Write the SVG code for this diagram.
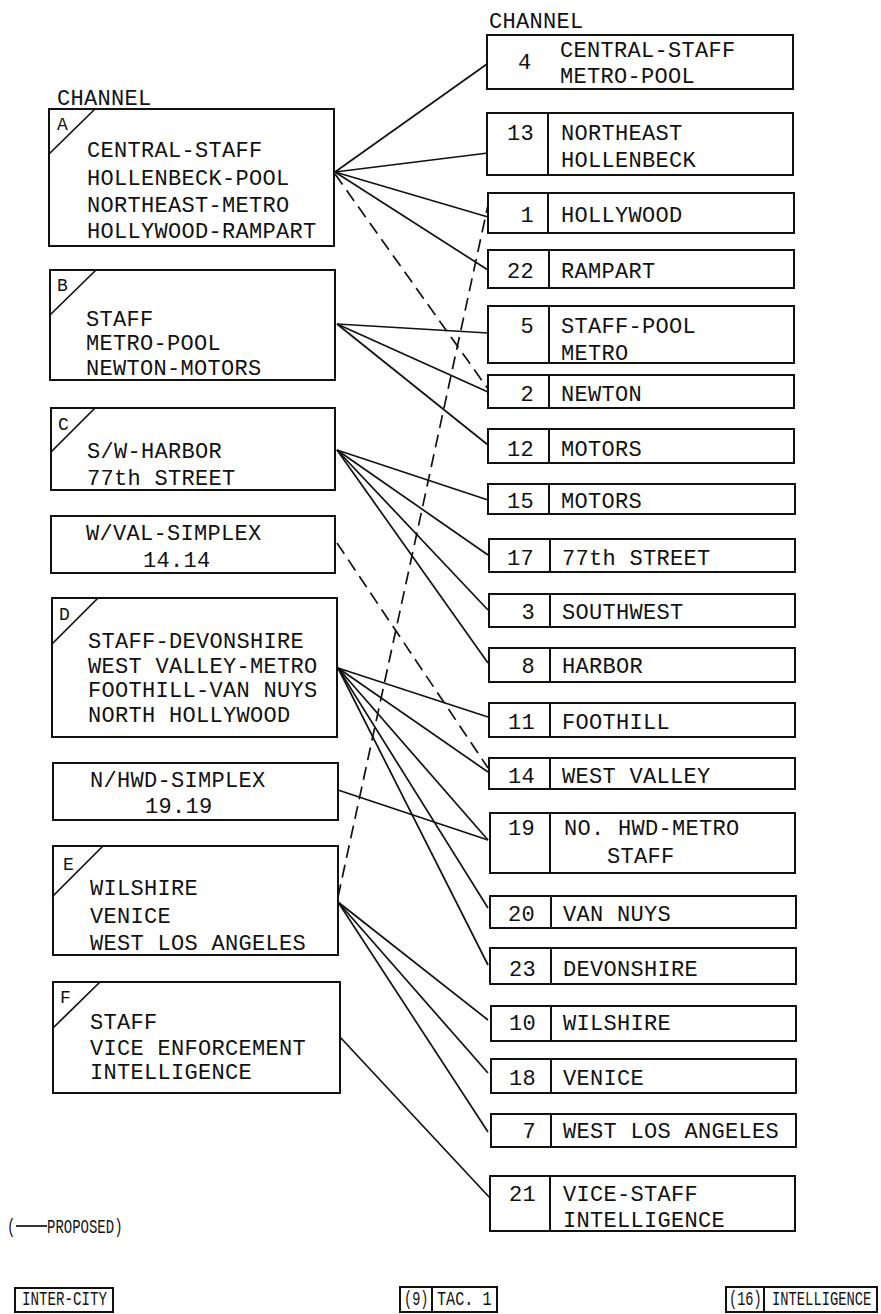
<svg xmlns="http://www.w3.org/2000/svg" width="881" height="1314" viewBox="0 0 881 1314">
<style>
.bg{fill:#fff}
.box{fill:none;stroke:#111;stroke-width:2}
.t{font-family:"Liberation Mono","DejaVu Sans Mono",monospace;font-size:22px;letter-spacing:0.3px;fill:#111}
.l{font-family:"Liberation Mono","DejaVu Sans Mono",monospace;font-size:18px;fill:#111}
.s{font-family:"Liberation Mono","DejaVu Sans Mono",monospace;font-size:20px;fill:#111}
.n{text-anchor:end}
.c{stroke:#111;stroke-width:1.7;fill:none}
.d{stroke-dasharray:13 7}
</style>
<rect class="bg" x="0" y="0" width="881" height="1314"/>

<g id="connectors">
  <line class="c" x1="335" y1="172" x2="487" y2="64"/>
  <line class="c" x1="335" y1="172" x2="488" y2="153"/>
  <line class="c" x1="335" y1="172" x2="488" y2="217"/>
  <line class="c" x1="335" y1="172" x2="488" y2="270"/>
  <line class="c d" x1="335" y1="174" x2="488" y2="389"/>
  <line class="c" x1="337" y1="324" x2="488" y2="333"/>
  <line class="c" x1="337" y1="324" x2="488" y2="392"/>
  <line class="c" x1="337" y1="324" x2="488" y2="445"/>
  <line class="c" x1="337" y1="450" x2="488" y2="500"/>
  <line class="c" x1="337" y1="450" x2="488" y2="555"/>
  <line class="c" x1="337" y1="450" x2="488" y2="610"/>
  <line class="c" x1="337" y1="450" x2="488" y2="663"/>
  <line class="c d" x1="337" y1="543" x2="488" y2="768"/>
  <line class="c" x1="338" y1="668" x2="488" y2="717"/>
  <line class="c" x1="338" y1="668" x2="488" y2="772"/>
  <line class="c" x1="338" y1="668" x2="488" y2="840"/>
  <line class="c" x1="338" y1="668" x2="488" y2="908"/>
  <line class="c" x1="338" y1="668" x2="488" y2="965"/>
  <line class="c" x1="338" y1="790" x2="488" y2="840"/>
  <line class="c d" x1="338" y1="897" x2="488" y2="205"/>
  <line class="c" x1="338" y1="902" x2="488" y2="1020"/>
  <line class="c" x1="338" y1="902" x2="488" y2="1073"/>
  <line class="c" x1="338" y1="902" x2="488" y2="1132"/>
  <line class="c" x1="340" y1="1037" x2="490" y2="1198"/>
</g>

<text class="t" x="57" y="105">CHANNEL</text>
<text class="t" x="489" y="28">CHANNEL</text>

<g id="node-A">
  <rect class="box" x="49" y="109" width="285" height="137"/>
  <line class="c" x1="49" y1="154" x2="95" y2="109"/>
  <text class="l" x="57" y="130">A</text>
  <text class="t" x="87" y="157">CENTRAL-STAFF</text>
  <text class="t" x="87" y="185">HOLLENBECK-POOL</text>
  <text class="t" x="87" y="212">NORTHEAST-METRO</text>
  <text class="t" x="87" y="238">HOLLYWOOD-RAMPART</text>
</g>
<g id="node-B">
  <rect class="box" x="50" y="270" width="285" height="110"/>
  <line class="c" x1="50" y1="315" x2="96" y2="270"/>
  <text class="l" x="57" y="291">B</text>
  <text class="t" x="86" y="326">STAFF</text>
  <text class="t" x="86" y="350">METRO-POOL</text>
  <text class="t" x="86" y="375">NEWTON-MOTORS</text>
</g>
<g id="node-C">
  <rect class="box" x="51" y="408" width="284" height="82"/>
  <line class="c" x1="51" y1="452" x2="95" y2="408"/>
  <text class="l" x="58" y="430">C</text>
  <text class="t" x="87" y="458">S/W-HARBOR</text>
  <text class="t" x="87" y="485">77th STREET</text>
</g>
<g id="node-WVAL">
  <rect class="box" x="51" y="516" width="284" height="57"/>
  <text class="t" x="86" y="540">W/VAL-SIMPLEX</text>
  <text class="t" x="143" y="567">14.14</text>
</g>
<g id="node-D">
  <rect class="box" x="52" y="598" width="285" height="139"/>
  <line class="c" x1="52" y1="644" x2="98" y2="598"/>
  <text class="l" x="59" y="620">D</text>
  <text class="t" x="88" y="648">STAFF-DEVONSHIRE</text>
  <text class="t" x="88" y="673">WEST VALLEY-METRO</text>
  <text class="t" x="88" y="697">FOOTHILL-VAN NUYS</text>
  <text class="t" x="88" y="722">NORTH HOLLYWOOD</text>
</g>
<g id="node-NHWD">
  <rect class="box" x="53" y="763" width="285" height="57"/>
  <text class="t" x="90" y="787">N/HWD-SIMPLEX</text>
  <text class="t" x="145" y="813">19.19</text>
</g>
<g id="node-E">
  <rect class="box" x="53" y="846" width="285" height="109"/>
  <line class="c" x1="53" y1="896" x2="103" y2="846"/>
  <text class="l" x="63" y="870">E</text>
  <text class="t" x="90" y="895">WILSHIRE</text>
  <text class="t" x="90" y="923">VENICE</text>
  <text class="t" x="90" y="950">WEST LOS ANGELES</text>
</g>
<g id="node-F">
  <rect class="box" x="53" y="982" width="287" height="111"/>
  <line class="c" x1="53" y1="1028" x2="100" y2="982"/>
  <text class="l" x="60" y="1003">F</text>
  <text class="t" x="90" y="1029">STAFF</text>
  <text class="t" x="90" y="1055">VICE ENFORCEMENT</text>
  <text class="t" x="90" y="1079">INTELLIGENCE</text>
</g>

<g id="ch-4">
  <rect class="box" x="487" y="35" width="306" height="54"/>
  <text class="t" x="518" y="69">4</text>
  <text class="t" x="560" y="57">CENTRAL-STAFF</text>
  <text class="t" x="560" y="83">METRO-POOL</text>
</g>
<g id="ch-13">
  <rect class="box" x="487" y="113" width="306" height="62"/>
  <line class="box" x1="548" y1="113" x2="548" y2="175"/>
  <text class="t n" x="534" y="140">13</text>
  <text class="t" x="561" y="140">NORTHEAST</text>
  <text class="t" x="561" y="167">HOLLENBECK</text>
</g>
<g id="ch-1">
  <rect class="box" x="488" y="193" width="306" height="40"/>
  <line class="box" x1="548" y1="193" x2="548" y2="233"/>
  <text class="t n" x="534" y="222">1</text>
  <text class="t" x="561" y="222">HOLLYWOOD</text>
</g>
<g id="ch-22">
  <rect class="box" x="488" y="250" width="306" height="38"/>
  <line class="box" x1="549" y1="250" x2="549" y2="288"/>
  <text class="t n" x="534" y="278">22</text>
  <text class="t" x="561" y="278">RAMPART</text>
</g>
<g id="ch-5">
  <rect class="box" x="488" y="306" width="306" height="57"/>
  <line class="box" x1="549" y1="306" x2="549" y2="363"/>
  <text class="t n" x="534" y="333">5</text>
  <text class="t" x="561" y="333">STAFF-POOL</text>
  <text class="t" x="561" y="360">METRO</text>
</g>
<g id="ch-2">
  <rect class="box" x="488" y="375" width="306" height="33"/>
  <line class="box" x1="549" y1="375" x2="549" y2="408"/>
  <text class="t n" x="534" y="401">2</text>
  <text class="t" x="561" y="401">NEWTON</text>
</g>
<g id="ch-12">
  <rect class="box" x="488" y="429" width="306" height="34"/>
  <line class="box" x1="549" y1="429" x2="549" y2="463"/>
  <text class="t n" x="534" y="456">12</text>
  <text class="t" x="561" y="456">MOTORS</text>
</g>
<g id="ch-15">
  <rect class="box" x="488" y="484" width="307" height="30"/>
  <line class="box" x1="549" y1="484" x2="549" y2="514"/>
  <text class="t n" x="534" y="508">15</text>
  <text class="t" x="561" y="508">MOTORS</text>
</g>
<g id="ch-17">
  <rect class="box" x="489" y="539" width="306" height="33"/>
  <line class="box" x1="550" y1="539" x2="550" y2="572"/>
  <text class="t n" x="534" y="565">17</text>
  <text class="t" x="562" y="565">77th STREET</text>
</g>
<g id="ch-3">
  <rect class="box" x="489" y="594" width="306" height="33"/>
  <line class="box" x1="550" y1="594" x2="550" y2="627"/>
  <text class="t n" x="535" y="619">3</text>
  <text class="t" x="562" y="619">SOUTHWEST</text>
</g>
<g id="ch-8">
  <rect class="box" x="489" y="648" width="306" height="34"/>
  <line class="box" x1="550" y1="648" x2="550" y2="682"/>
  <text class="t n" x="535" y="673">8</text>
  <text class="t" x="562" y="673">HARBOR</text>
</g>
<g id="ch-11">
  <rect class="box" x="489" y="703" width="306" height="34"/>
  <line class="box" x1="550" y1="703" x2="550" y2="737"/>
  <text class="t n" x="535" y="729">11</text>
  <text class="t" x="562" y="729">FOOTHILL</text>
</g>
<g id="ch-14">
  <rect class="box" x="489" y="758" width="306" height="31"/>
  <line class="box" x1="550" y1="758" x2="550" y2="789"/>
  <text class="t n" x="535" y="783">14</text>
  <text class="t" x="562" y="783">WEST VALLEY</text>
</g>
<g id="ch-19">
  <rect class="box" x="490" y="813" width="305" height="60"/>
  <line class="box" x1="550" y1="813" x2="550" y2="873"/>
  <text class="t n" x="535" y="835">19</text>
  <text class="t" x="564" y="835">NO. HWD-METRO</text>
  <text class="t" x="607" y="863">STAFF</text>
</g>
<g id="ch-20">
  <rect class="box" x="490" y="896" width="306" height="32"/>
  <line class="box" x1="551" y1="896" x2="551" y2="928"/>
  <text class="t n" x="535" y="921">20</text>
  <text class="t" x="563" y="921">VAN NUYS</text>
</g>
<g id="ch-23">
  <rect class="box" x="490" y="948" width="306" height="36"/>
  <line class="box" x1="551" y1="948" x2="551" y2="984"/>
  <text class="t n" x="536" y="976">23</text>
  <text class="t" x="563" y="976">DEVONSHIRE</text>
</g>
<g id="ch-10">
  <rect class="box" x="491" y="1006" width="305" height="35"/>
  <line class="box" x1="551" y1="1006" x2="551" y2="1041"/>
  <text class="t n" x="536" y="1030">10</text>
  <text class="t" x="563" y="1030">WILSHIRE</text>
</g>
<g id="ch-18">
  <rect class="box" x="491" y="1059" width="305" height="34"/>
  <line class="box" x1="551" y1="1059" x2="551" y2="1093"/>
  <text class="t n" x="536" y="1085">18</text>
  <text class="t" x="563" y="1085">VENICE</text>
</g>
<g id="ch-7">
  <rect class="box" x="491" y="1114" width="305" height="33"/>
  <line class="box" x1="551" y1="1114" x2="551" y2="1147"/>
  <text class="t n" x="536" y="1138">7</text>
  <text class="t" x="563" y="1138">WEST LOS ANGELES</text>
</g>
<g id="ch-21">
  <rect class="box" x="490" y="1176" width="305" height="55"/>
  <line class="box" x1="550" y1="1176" x2="550" y2="1231"/>
  <text class="t n" x="536" y="1201">21</text>
  <text class="t" x="563" y="1201">VICE-STAFF</text>
  <text class="t" x="563" y="1227">INTELLIGENCE</text>
</g>

<g id="legend">
  <text class="s" transform="translate(7,1233) scale(0.7,1)">(</text>
  <line class="c" x1="16" y1="1226" x2="47" y2="1226" stroke-width="1.4"/>
  <text class="s" transform="translate(47,1233) scale(0.7,1)">PROPOSED)</text>
</g>
<g id="inter-city">
  <rect class="box" x="15" y="1288" width="98" height="24"/>
  <text class="s" transform="translate(22,1305) scale(0.71,1)">INTER-CITY</text>
</g>
<g id="tac-1">
  <rect class="box" x="400" y="1287" width="97" height="25"/>
  <line class="box" x1="432" y1="1287" x2="432" y2="1312"/>
  <text class="s" transform="translate(404,1305) scale(0.68,1)">(9)</text>
  <text class="s" transform="translate(437,1305) scale(0.76,1)">TAC. 1</text>
</g>
<g id="intelligence">
  <rect class="box" x="726" y="1287" width="151" height="25"/>
  <line class="box" x1="764" y1="1287" x2="764" y2="1312"/>
  <text class="s" transform="translate(729,1305) scale(0.68,1)">(16)</text>
  <text class="s" transform="translate(772,1305) scale(0.69,1)">INTELLIGENCE</text>
</g>
</svg>
